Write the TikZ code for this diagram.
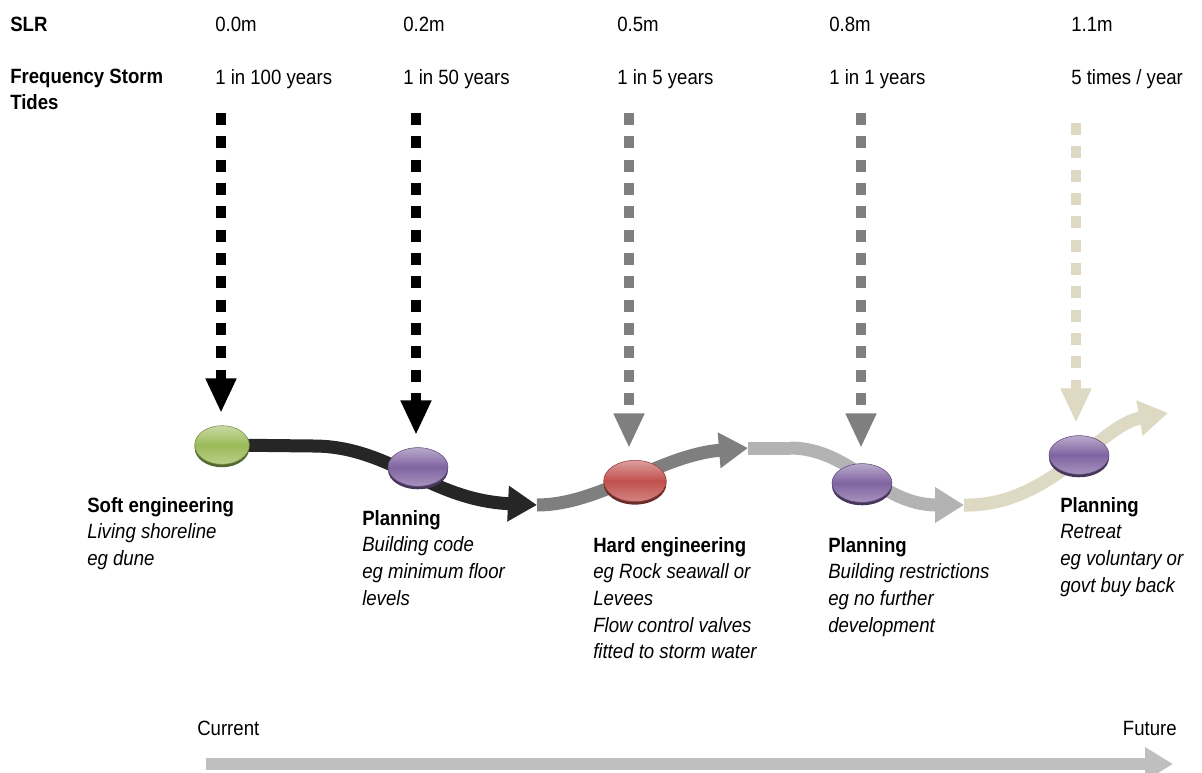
\documentclass[tikz,border=0pt]{standalone}
\usepackage{fontspec}
\setmainfont{Liberation Sans}[FakeStretch=0.9]
\usetikzlibrary{arrows.meta,shapes.geometric}
\definecolor{segA}{HTML}{262626}
\definecolor{segB}{HTML}{7F7F7F}
\definecolor{segC}{HTML}{B3B3B3}
\definecolor{segD}{HTML}{DDD9C3}
\definecolor{timeln}{HTML}{BFBFBF}
\definecolor{discG}{HTML}{9BBB59}
\definecolor{discP}{HTML}{8064A2}
\definecolor{discR}{HTML}{C0504D}
\tikzset{
  lab/.style={anchor=north west, inner sep=0pt, align=left, font=\fontsize{15.5}{20}\selectfont},
  seg/.style={line width=9.75pt, draw=#1, -{Triangle[length=21.75pt,width=25.5pt]}},
  segplain/.style={line width=9.75pt, draw=#1},
  drop/.style={line width=7.1pt, draw=#1, dash pattern=on 9pt off 8.5pt, -{Triangle[length=26pt,width=21.5pt]}},
  disc/.style={ellipse, inner sep=0pt, minimum width=45pt, minimum height=29pt,
    draw=#1!75!black, line width=0.4pt,
    preaction={fill=#1!55!black, transform canvas={yshift=-2.2pt}},
    top color=#1!55!white, bottom color=#1!70!white, middle color=#1},
}
\begin{document}
\begin{tikzpicture}[x=0.75pt,y=-0.75pt]
\useasboundingbox (0,0) rectangle (1202,773);
% header rows
\node[lab, font=\fontsize{15.5}{20}\selectfont\bfseries] (slr) at (10,17) {SLR};
\node[lab] (v1) at (215,17) {0.0m};
\node[lab] (v2) at (403,17) {0.2m};
\node[lab] (v3) at (617,17) {0.5m};
\node[lab] (v4) at (829,17) {0.8m};
\node[lab] (v5) at (1071,17) {1.1m};
\node[lab, font=\fontsize{15.5}{19.5}\selectfont\bfseries] (fst) at (10,69) {Frequency Storm\\Tides};
\node[lab] (f1) at (215,69) {1 in 100 years};
\node[lab] (f2) at (403,69) {1 in 50 years};
\node[lab] (f3) at (617,69) {1 in 5 years};
\node[lab] (f4) at (829,69) {1 in 1 years};
\node[lab] (f5) at (1071,69) {5 times / year};
% disc centres and path waypoints
\coordinate (p1) at (222,445);
\coordinate (p2) at (418,467);
\coordinate (p3) at (635,481);
\coordinate (p4) at (862,483);
\coordinate (p5) at (1079,455);
\coordinate (k1) at (313,446);
\coordinate (a1) at (537,505);
\coordinate (a2) at (748,448);
\coordinate (k3) at (790,448);
\coordinate (a3) at (964,505);
\coordinate (a4) at (1168,413);
% curved pathway
\draw[segplain=segA] (p1) -- (k1);
\draw[seg=segA] (k1) .. controls +(77,0) and +(-107,-5) .. (a1);
\draw[seg=segB] (a1) .. controls +(63,0) and +(-88,7) .. (a2);
\draw[segplain=segC] (a2) -- (k3);
\draw[seg=segC] (k3) .. controls +(60,0) and +(-84,0) .. (a3);
\draw[seg=segD] (a3) .. controls +(86,2) and +(-68,12) .. (a4);
% dashed drops
\coordinate (d1) at (221,113); \coordinate (t1) at (221,413);
\coordinate (d2) at (416,113); \coordinate (t2) at (416,435);
\coordinate (d3) at (629,113); \coordinate (t3) at (629,448);
\coordinate (d4) at (861,113); \coordinate (t4) at (861,448);
\coordinate (d5) at (1076,123); \coordinate (t5) at (1076,423);
\draw[drop=black] (d1) -- (t1);
\draw[drop=black] (d2) -- (t2);
\draw[drop=segB] (d3) -- (t3);
\draw[drop=segB] (d4) -- (t4);
\draw[drop=segD] (d5) -- (t5);
% discs
\node[disc=discG, minimum width=41pt, minimum height=29pt] (e1) at (p1) {};
\node[disc=discP] (e2) at (p2) {};
\node[disc=discR, minimum width=47pt, minimum height=31pt] (e3) at (p3) {};
\node[disc=discP] (e4) at (p4) {};
\node[disc=discP] (e5) at (p5) {};
% descriptions
\node[lab] (b1) at (87,497) {\textbf{Soft engineering}\\\textit{Living shoreline}\\\textit{eg dune}};
\node[lab] (b2) at (362,510) {\textbf{Planning}\\\textit{Building code}\\\textit{eg minimum floor}\\\textit{levels}};
\node[lab] (b3) at (593,537) {\textbf{Hard engineering}\\\textit{eg Rock seawall or}\\\textit{Levees}\\\textit{Flow control valves}\\\textit{fitted to storm water}};
\node[lab] (b4) at (828,537) {\textbf{Planning}\\\textit{Building restrictions}\\\textit{eg no further}\\\textit{development}};
\node[lab] (b5) at (1060,497) {\textbf{Planning}\\\textit{Retreat}\\\textit{eg voluntary or}\\\textit{govt buy back}};
% timeline
\node[lab] (cur) at (197,721) {Current};
\node[lab, anchor=north east] (fut) at (1177,721) {Future};
\coordinate (ts) at (206,764);
\coordinate (te) at (1173,764);
\draw[line width=8.6pt, draw=timeln, -{Triangle[length=21pt,width=24pt]}] (ts) -- (te);
\end{tikzpicture}
\end{document}
